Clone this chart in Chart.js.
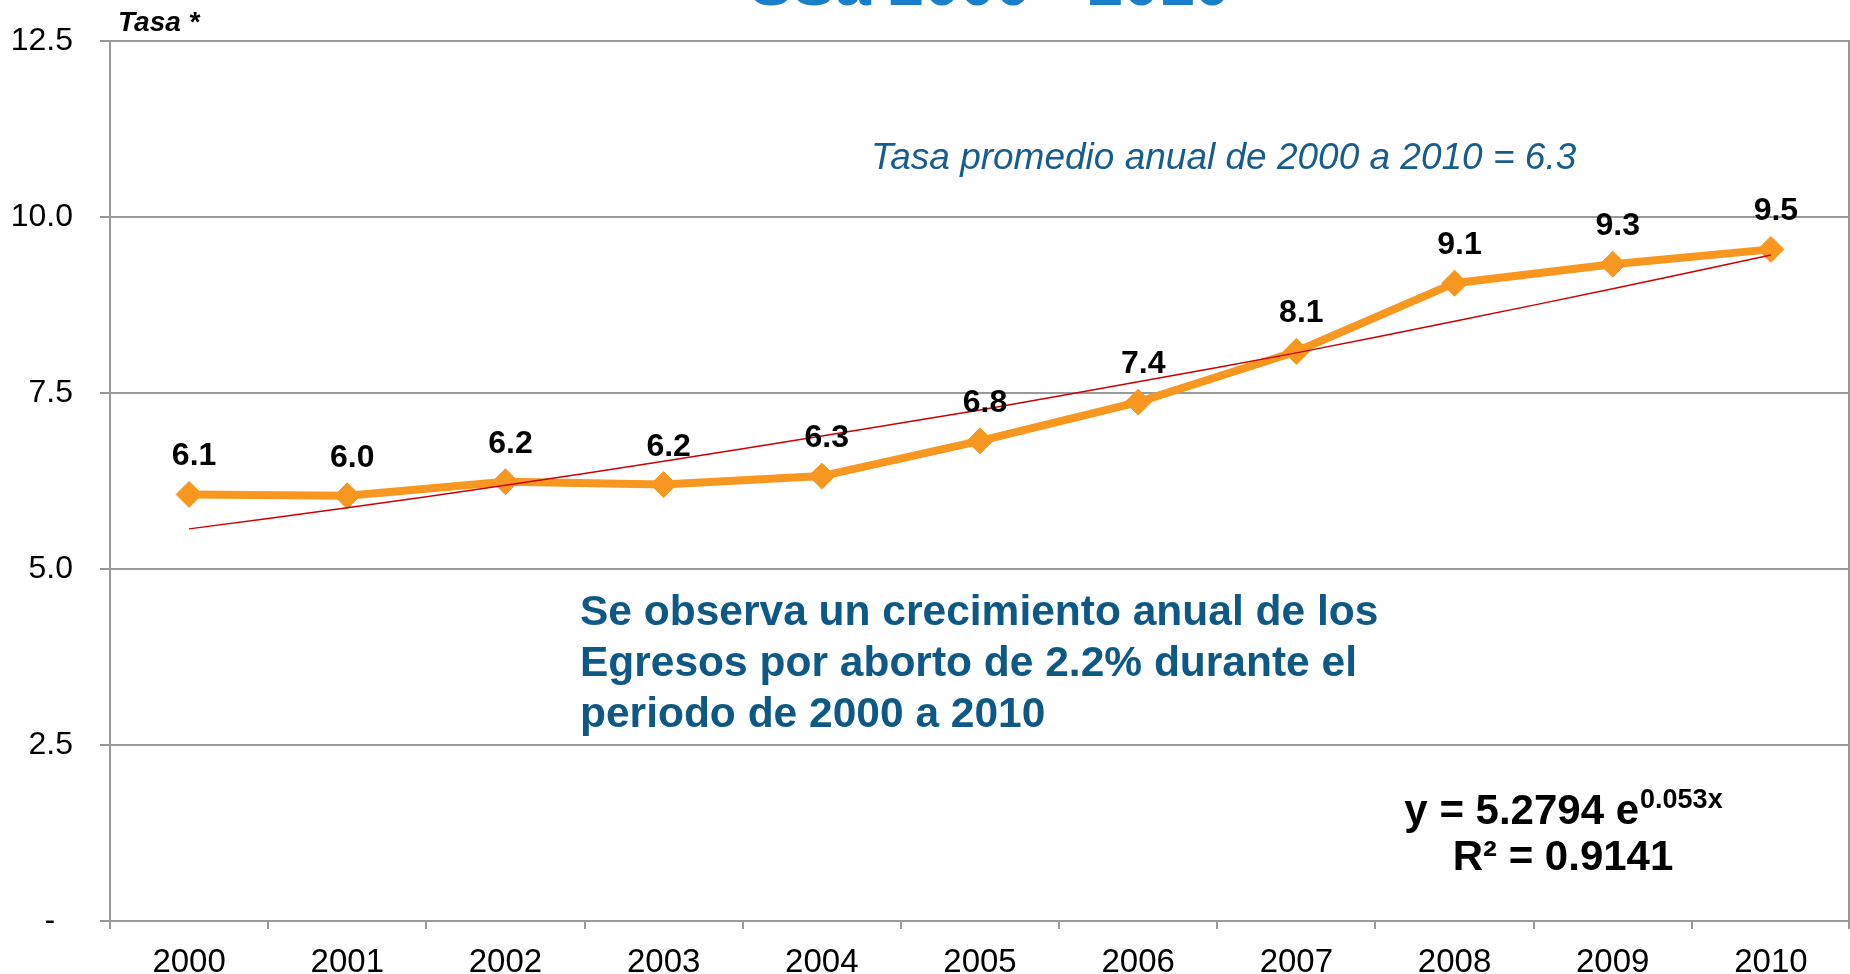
<!DOCTYPE html>
<html>
<head>
<meta charset="utf-8">
<script src="https://cdn.jsdelivr.net/npm/chart.js@4/dist/chart.umd.min.js"></script>
<style>
  html, body { margin: 0; padding: 0; background: #fff; }
  #wrap { width: 1850px; height: 974px; }
</style>
</head>
<body>
<div id="wrap"><canvas id="chart" width="1850" height="974"></canvas></div>
<script>
// ---- data ----
const years = ["2000", "2001", "2002", "2003", "2004", "2005", "2006", "2007", "2008", "2009", "2010"];
const rates = [6.06, 6.04, 6.24, 6.20, 6.32, 6.82, 7.37, 8.09, 9.06, 9.33, 9.54];
// exponential trend line as drawn (y = 5.2794 e^0.053x)
const trend = [5.57, 5.87, 6.19, 6.53, 6.89, 7.26, 7.66, 8.07, 8.52, 8.98, 9.46];

const titleText = "SSa 2000 - 2010";
const axisTitle = "Tasa *";
const avgNote = "Tasa promedio anual de 2000 a 2010 = 6.3";
const growthNote = [
    "Se observa un crecimiento anual de los",
    "Egresos por aborto de 2.2% durante el",
    "periodo de 2000 a 2010"
];
const eqMain = "y = 5.2794 e";
const eqSup = "0.053x";
const eqR2 = "R² = 0.9141";

const FAM = "'Liberation Sans', Arial, sans-serif";
const GRID = "#999999";
const ORANGE = "#F7971F";
const TREND_RED = "#CC0000";

Chart.defaults.font.family = FAM;

// right frame line of the plot
const frame = {
    id: "frame",
    beforeDatasetsDraw(chart) {
        const ctx = chart.ctx;
        const a = chart.chartArea;
        ctx.save();
        ctx.strokeStyle = GRID;
        ctx.lineWidth = 2;
        ctx.beginPath();
        ctx.moveTo(a.right - 1, a.top - 1);
        ctx.lineTo(a.right - 1, a.bottom + 8);
        ctx.stroke();
        ctx.restore();
    }
};

// texts drawn on top of the chart
const notes = {
    id: "notes",
    afterDatasetsDraw(chart) {
        const ctx = chart.ctx;
        const area = chart.chartArea;
        ctx.save();

        // value labels above each point
        const meta = chart.getDatasetMeta(1);
        ctx.fillStyle = "#000";
        ctx.font = "bold 32px " + FAM;
        ctx.textAlign = "center";
        ctx.textBaseline = "alphabetic";
        meta.data.forEach((pt, i) => {
            ctx.fillText(rates[i].toFixed(1), pt.x + 5, pt.y - 29);
        });

        // clipped slide title
        ctx.fillStyle = "#1A7FCB";
        ctx.font = "bold 64px " + FAM;
        ctx.fillText(titleText, 990, 5);

        // axis caption
        ctx.textAlign = "left";
        ctx.fillStyle = "#000";
        ctx.font = "italic bold 28px " + FAM;
        ctx.fillText(axisTitle, area.left + 8, 31);

        // average note
        ctx.fillStyle = "#165C8C";
        ctx.font = "italic 37px " + FAM;
        ctx.fillText(avgNote, 871, 169);

        // growth note
        ctx.fillStyle = "#0E5886";
        ctx.font = "bold 42.5px " + FAM;
        growthNote.forEach((line, i) => ctx.fillText(line, 580, 625 + i * 51));

        // trend equation
        ctx.fillStyle = "#000";
        ctx.font = "bold 42px " + FAM;
        const wMain = ctx.measureText(eqMain).width;
        ctx.font = "bold 27px " + FAM;
        const wSup = ctx.measureText(eqSup).width;
        const cx = 1563;
        const x0 = cx - (wMain + wSup) / 2;
        ctx.font = "bold 42px " + FAM;
        ctx.fillText(eqMain, x0, 824);
        ctx.font = "bold 27px " + FAM;
        ctx.fillText(eqSup, x0 + wMain + 1, 808);
        ctx.textAlign = "center";
        ctx.font = "bold 42px " + FAM;
        ctx.fillText(eqR2, cx, 870);

        ctx.restore();
    }
};

new Chart(document.getElementById("chart"), {
    type: "line",
    data: {
        labels: years,
        datasets: [
            {
                label: "Tendencia",
                data: trend,
                borderColor: TREND_RED,
                borderWidth: 1.5,
                pointRadius: 0,
                tension: 0.3,
                fill: false
            },
            {
                label: "Tasa",
                data: rates,
                borderColor: ORANGE,
                backgroundColor: ORANGE,
                borderWidth: 8,
                pointStyle: "rectRot",
                pointRadius: 13,
                pointBorderWidth: 1,
                pointBackgroundColor: ORANGE,
                pointBorderColor: ORANGE,
                tension: 0,
                fill: false
            }
        ]
    },
    options: {
        responsive: false,
        animation: false,
        devicePixelRatio: 1,
        layout: { autoPadding: false, padding: { top: 41, left: 0, right: 0, bottom: 0 } },
        plugins: {
            legend: { display: false },
            tooltip: { enabled: false }
        },
        scales: {
            x: {
                offset: true,
                grid: { offset: true, drawOnChartArea: false, color: GRID, lineWidth: 2, tickLength: 8 },
                border: { color: GRID, width: 2 },
                ticks: { color: "#000", font: { size: 33 }, padding: 14, maxRotation: 0, autoSkip: false },
                afterFit: s => { s.height = 53; s.paddingRight = 0; s.paddingLeft = 0; }
            },
            y: {
                min: 0,
                max: 12.5,
                ticks: {
                    stepSize: 2.5,
                    color: "#000",
                    font: { size: 32 },
                    padding: 27,
                    callback: v => v === 0 ? "-  " : v.toFixed(1)
                },
                grid: { color: GRID, lineWidth: 2, tickLength: 10 },
                border: { color: GRID, width: 2 },
                afterFit: s => { s.width = 110; s.paddingTop = 0; s.paddingBottom = 0; }
            }
        }
    },
    plugins: [frame, notes]
});
</script>
</body>
</html>
